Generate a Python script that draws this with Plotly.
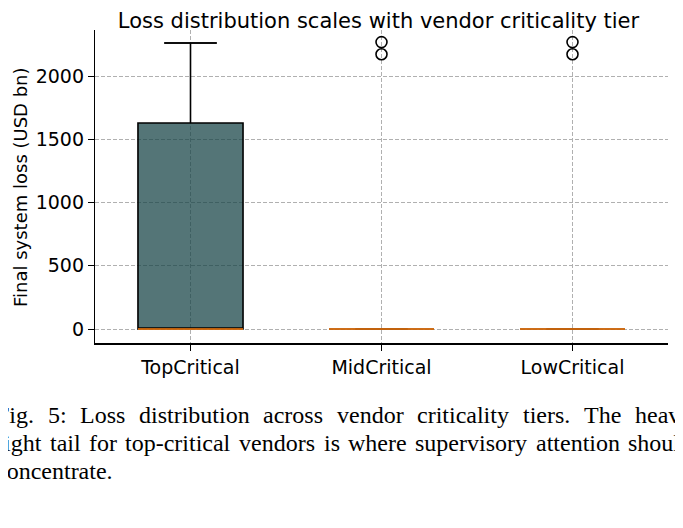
import plotly.graph_objects as go

# Box statistics per vendor criticality tier (USD bn)
tiers = ["TopCritical", "MidCritical", "LowCritical"]
q1 = [0, 0, 0]
medians = [0, 0, 0]
q3 = [1628, 0, 0]
lower_fence = [0, 0, 0]
upper_fence = [2261, 0, 0]

# Outliers beyond the whiskers
outlier_tiers = ["MidCritical", "MidCritical", "LowCritical", "LowCritical"]
outlier_losses = [2172, 2268, 2172, 2268]

caption_lines = [
    "Fig. 5: Loss distribution across vendor criticality tiers. The heavy",
    "right tail for top-critical vendors is where supervisory attention should",
    "concentrate.",
]

# the page puts the figure 8px in from the top-left corner,
# so all layout positions below are page pixels minus OFF
OFF = 8
W, H = 683 - OFF, 528 - OFF
PL, PR, PT, PB = 95 - OFF, 668 - OFF, 30 - OFF, 343 - OFF  # plot area


def px_x(px):
    return (px - PL) / (PR - PL)


def px_y(py):
    return (PB - py) / (PB - PT)


# Times / Liberation Serif advance widths (per 1000 em) for justifying the caption
TIMES_W = {
    " ": 250, ".": 250, ":": 278, "-": 333, "5": 500,
    "F": 556, "L": 611, "T": 611,
    "a": 444, "b": 500, "c": 444, "d": 500, "e": 444, "f": 333, "g": 500,
    "h": 500, "i": 278, "l": 278, "m": 778, "n": 500, "o": 500, "p": 500,
    "r": 333, "s": 389, "t": 278, "u": 500, "v": 500, "w": 722, "y": 500,
}


def text_w(s, size):
    return sum(TIMES_W.get(c, 500) for c in s) * size / 1000.0


fig = go.Figure()

fig.add_trace(go.Box(
    x=tiers, q1=q1, median=medians, q3=q3,
    lowerfence=lower_fence, upperfence=upper_fence,
    width=0.55, whiskerwidth=0.5,
    fillcolor="rgba(20,66,69,0.73)",
    line=dict(color="black", width=1.6),
    boxpoints=False, hoverinfo="skip", showlegend=False,
))

# whisker caps (line-ew symbol is 1.4 x size long)
fig.add_trace(go.Scatter(
    x=tiers, y=upper_fence, mode="markers", hoverinfo="skip", showlegend=False,
    marker=dict(symbol="line-ew", size=37.5, color="black",
                line=dict(color="black", width=1.7)),
))

# orange median lines
fig.add_trace(go.Scatter(
    x=tiers, y=medians, mode="markers", hoverinfo="skip", showlegend=False,
    marker=dict(symbol="line-ew", size=75, color="#ff7f0e",
                line=dict(color="#ff7f0e", width=1.5)),
))

# fliers
fig.add_trace(go.Scatter(
    x=outlier_tiers, y=outlier_losses, mode="markers", showlegend=False,
    marker=dict(symbol="circle-open", size=11, color="black",
                line=dict(color="black", width=1.6)),
))

annotations = []
cap_size = 24
x0, col_w = -6 - OFF, 696
centers = [415 - OFF, 443 - OFF, 471 - OFF]
cap_font = dict(family="Liberation Serif", size=cap_size, color="black")
for i, line in enumerate(caption_lines):
    if i < len(caption_lines) - 1:
        words = line.split()
        total = sum(text_w(w, cap_size) for w in words)
        gap = (col_w - total) / (len(words) - 1)
        x = x0
        for w in words:
            annotations.append(dict(
                text=w, x=px_x(x), y=px_y(centers[i]), xref="paper", yref="paper",
                xanchor="left", yanchor="middle", showarrow=False, font=cap_font,
            ))
            x += text_w(w, cap_size) + gap
    else:
        annotations.append(dict(
            text=line, x=px_x(x0), y=px_y(centers[i]), xref="paper", yref="paper",
            xanchor="left", yanchor="middle", showarrow=False, font=cap_font,
        ))

# y axis title
annotations.append(dict(
    text="Final system loss (USD bn)", textangle=-90,
    x=px_x(20 - OFF), y=px_y(187 - OFF), xref="paper", yref="paper",
    xanchor="center", yanchor="middle", showarrow=False,
    font=dict(family="DejaVu Sans", size=18, color="black"),
))

fig.update_layout(
    width=W, height=H,
    margin=dict(l=PL, r=W - PR, t=PT, b=H - PB, pad=0),
    plot_bgcolor="white", paper_bgcolor="white",
    font=dict(family="DejaVu Sans", color="black"),
    title=dict(
        text="Loss distribution scales with vendor criticality tier",
        x=(378.5 - OFF) / W, xanchor="center",
        y=1 - 13 / H, yanchor="middle", yref="container",
        font=dict(size=21, color="black"),
    ),
    xaxis=dict(
        type="category", categoryorder="array", categoryarray=tiers,
        range=[-0.5, 2.5],
        showline=True, linecolor="black", linewidth=2,
        ticks="outside", ticklen=6, tickwidth=1.3, tickcolor="black",
        tickfont=dict(size=19),
        showgrid=True, gridcolor="#b0b0b0", griddash="4px,2px", gridwidth=0.9,
        zeroline=False,
    ),
    yaxis=dict(
        range=[-110.7, 2363.6],
        tickvals=[0, 500, 1000, 1500, 2000],
        showline=True, linecolor="black", linewidth=1.3,
        ticks="outside", ticklen=6, tickwidth=1.3, tickcolor="black",
        tickfont=dict(size=19),
        showgrid=True, gridcolor="#b0b0b0", griddash="4px,2px", gridwidth=0.9,
        zeroline=False,
    ),
    annotations=annotations,
)

fig.write_html("out.html")
